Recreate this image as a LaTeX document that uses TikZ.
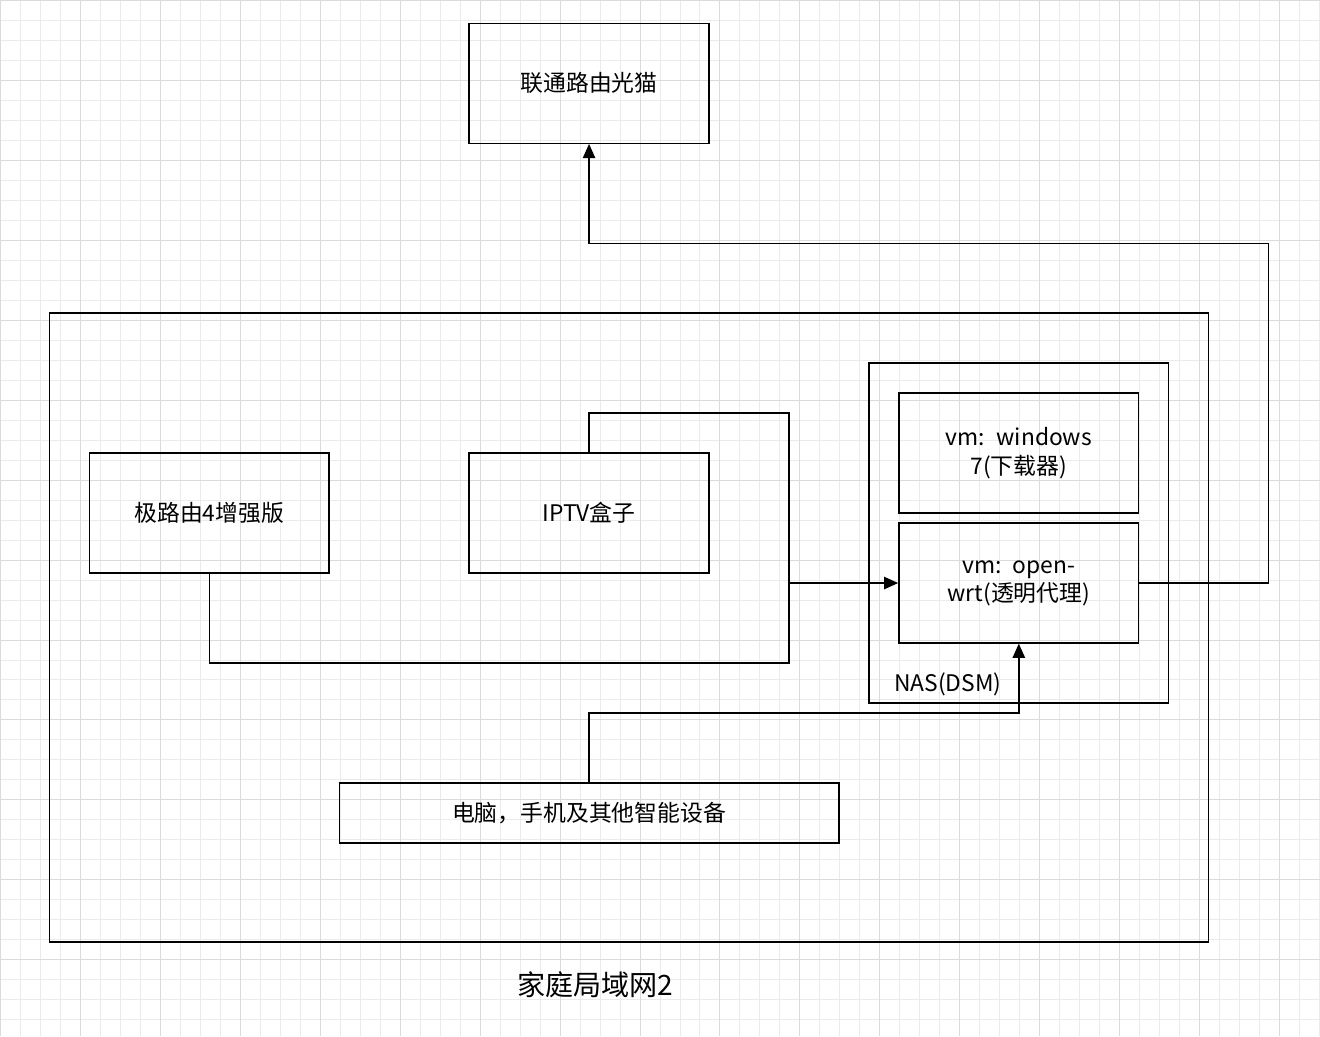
\documentclass[tikz,border=0pt]{standalone}
\usepackage{fontspec}
\setmainfont{Noto Sans CJK SC}
\usetikzlibrary{arrows.meta}
\tikzset{
  box/.style = {draw, thick, minimum width = 4.8cm, minimum height = 2.4cm, align = center, text width = 4.4cm, font = \fontsize{13}{16}\selectfont},
  link/.style = {thick, rounded corners = 0pt},
  tip/.style = {-{Triangle[length = 8pt, width = 7pt]}}
}
\begin{document}
\begin{tikzpicture}[x = 0.02cm, y = -0.02cm]
    \fill[white] (0, 0) rectangle (1320, 1036);
    \draw[black!8, step = 0.4cm] (0, 0) grid (1320, 1036);
    \draw[black!14, step = 1.6cm] (0, 0) grid (1320, 1036);
    % outer network
    \draw[thick] (49, 313) rectangle (1209, 942);
    \node[font = \fontsize{16}{19}\selectfont] (lan) at (595, 985) {家庭局域网2};
    % modem
    \node[box] (modem) at (589, 83) {联通路由光猫};
    % routers
    \node[box] (router) at (209, 513) {极路由4增强版};
    \node[box] (iptv) at (589, 513) {IPTV盒子};
    % NAS
    \draw[thick] (869, 363) rectangle (1169, 703);
    \node[font = \fontsize{13}{16}\selectfont] (nas) at (948, 684) {NAS(DSM)};
    \node[box] (win) at (1019, 453) {vm: windows 7(下载器)};
    \node[box] (wrt) at (1019, 583) {vm: openwrt(透明代理)};
    % devices
    \node[box, minimum width = 10cm, minimum height = 1.2cm, text width = 9.6cm] (pc) at (589, 813) {电脑，手机及其他智能设备};
    \coordinate (join) at (789, 583);
    % connectors
    \draw[link, tip] (wrt.east) -- (1269, 583) -- (1269, 243) -- (589, 243) -- (modem.south);
    \draw[link] (router.south) -- (209, 663) -- (789, 663) -- (join);
    \draw[link] (iptv.north) -- (589, 413) -- (789, 413) -- (join);
    \draw[link, tip] (join) -- (wrt.west);
    \draw[link, tip] (pc.north) -- (589, 713) -- (1019, 713) -- (wrt.south);
\end{tikzpicture}
\end{document}
